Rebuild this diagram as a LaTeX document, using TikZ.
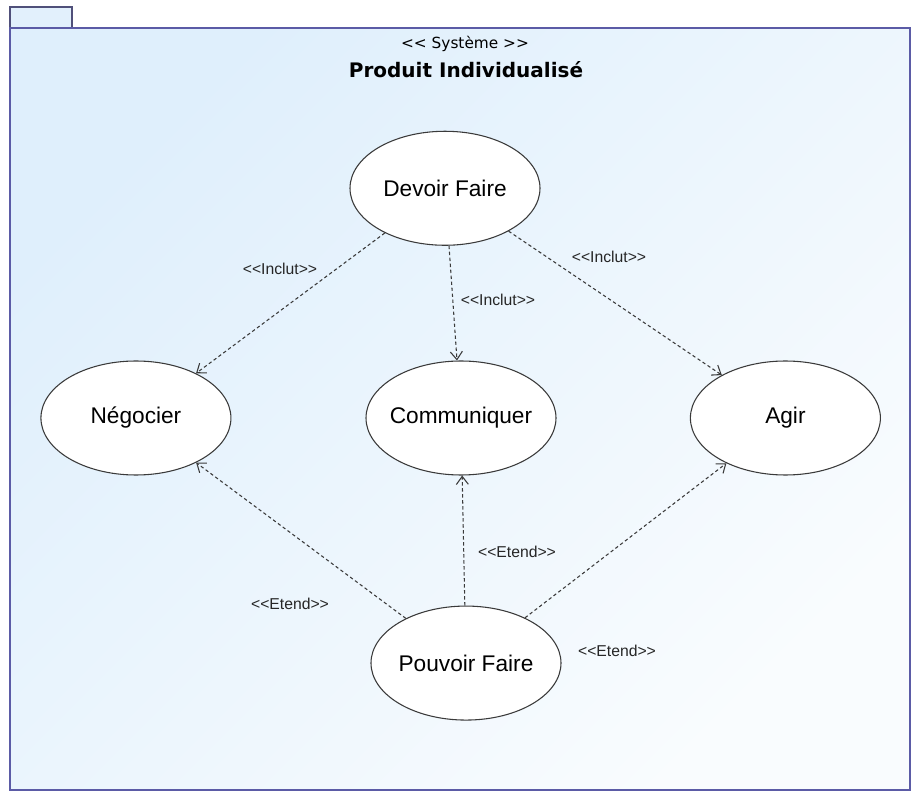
\documentclass[tikz,border=0pt]{standalone}
\usepackage{fontspec}
\setmainfont{Liberation Sans}
\newfontfamily\sysfont{DejaVu Sans}
\usepackage{xcolor}
\usepackage{tikz}
\usetikzlibrary{arrows.meta,positioning,shapes.geometric}
\definecolor{pkgblue}{HTML}{5B5BA6}
\definecolor{pkgtop}{HTML}{DFEFFC}
\definecolor{pkgbottom}{HTML}{F9FCFE}
\definecolor{tabblue}{HTML}{E2F0FC}
\definecolor{tabborder}{HTML}{50507A}
\definecolor{darkgray}{HTML}{3A3A3A}
\newcommand\stereo[1]{<\kern0pt<#1>\kern0pt>}
\tikzset{
  usecase/.style={ellipse,draw=darkgray,line width=0.8pt,fill=white,
    minimum width=142.5pt,minimum height=85.5pt,inner xsep=-20pt,inner ysep=0pt,
    font=\fontsize{17}{20}\selectfont},
  deplabel/.style={font=\fontsize{11.8}{14}\selectfont,text=black!85},
  deparrow/.style={-{Straight Barb[length=6pt,width=9pt]},line width=0.8pt,
    draw=darkgray,dash pattern=on 2.5pt off 2pt}
}
\begin{document}
\begin{tikzpicture}[x=0.75pt,y=-0.75pt]
\useasboundingbox (0,0) rectangle (911,798);
% package frame
\draw[fill=tabblue,draw=tabborder,line width=1pt] (10,7) rectangle (72,28);
\shade[top color=pkgtop,bottom color=pkgbottom,shading angle=45] (10,28) rectangle (909.5,790);
\draw[pkgblue,line width=1.5pt] (10,28) rectangle (909.5,790);
\node[font=\sysfont\fontsize{11.5}{14}\selectfont] (stereotype) at (465,44) {\stereo{ Système }};
\node[font=\sysfont\bfseries\fontsize{15}{18}\selectfont] (system) at (466,70) {Produit Individualisé};
% use cases
\node[usecase] (communiquer) at (461,418) {Communiquer};
\node[usecase,left=100.5pt of communiquer] (negocier) {Négocier};
\node[usecase,right=100pt of communiquer] (agir) {Agir};
\node[usecase,above=86pt of communiquer,xshift=-12pt] (devoir) {Devoir Faire};
\node[usecase,below=97.5pt of communiquer,xshift=3.75pt] (pouvoir) {Pouvoir Faire};
% dependencies
\draw[deparrow] (devoir) -- (negocier);
\draw[deparrow] (devoir) -- (communiquer);
\draw[deparrow] (devoir) -- (agir);
\draw[deparrow] (pouvoir) -- (negocier);
\draw[deparrow] (pouvoir) -- (communiquer);
\draw[deparrow] (pouvoir) -- (agir);
\node[deplabel] (inclut1) at (280,269) {\stereo{Inclut}};
\node[deplabel] (inclut2) at (498,300) {\stereo{Inclut}};
\node[deplabel] (inclut3) at (609,257) {\stereo{Inclut}};
\node[deplabel] (etend1) at (290,604) {\stereo{Etend}};
\node[deplabel] (etend2) at (517,552) {\stereo{Etend}};
\node[deplabel] (etend3) at (617,651) {\stereo{Etend}};
\end{tikzpicture}
\end{document}
